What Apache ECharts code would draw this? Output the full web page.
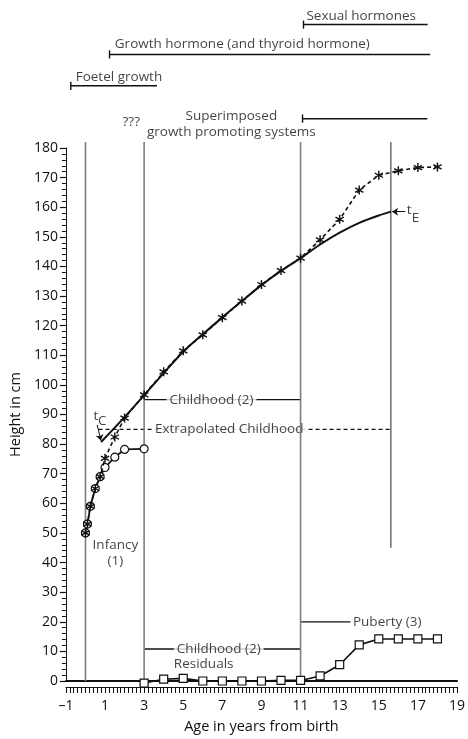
<!DOCTYPE html>
<html>
<head>
<meta charset="utf-8">
<script src="https://cdn.jsdelivr.net/npm/echarts@6/dist/echarts.min.js"></script>
<style>html,body{margin:0;padding:0;background:#fff}</style>
</head>
<body>
<div id="chart" style="width:468px;height:739px"></div>
<script>
// observed heights (asterisks)
const obsAges    = [0, 0.1, 0.25, 0.5, 0.75, 1, 1.5, 2, 3, 4, 5, 6, 7, 8, 9, 10, 11, 12, 13, 14, 15, 16, 17, 18];
const obsHeights = [50, 53, 59, 65, 69, 75.2, 82.4, 88.8, 96.6, 104.4, 111.5, 116.9, 122.7, 128.3, 133.9, 138.6, 142.8, 149, 155.9, 165.8, 170.8, 172.3, 173.4, 173.6];

// infancy component (circles)
const infancyAges    = [0, 0.1, 0.25, 0.5, 0.75, 1, 1.5, 2, 3];
const infancyHeights = [50, 53, 59, 65, 69, 72.1, 75.6, 78.2, 78.4];

// childhood component, from t_C to t_E
const childAges    = [0.8, 2, 3, 4, 5, 6, 7, 8, 9, 10, 11, 12, 13, 14, 15, 15.62];
const childHeights = [80.7, 89.1, 96.5, 104, 111.2, 117.1, 122.8, 128.3, 133.7, 138.5, 142.8, 147.4, 151.4, 154.7, 157.2, 158.5];

// puberty residuals (squares)
const residAges = [3, 4, 5, 6, 7, 8, 9, 10, 11, 12, 13, 14, 15, 16, 17, 18];
const residVals = [-0.7, 0.6, 0.9, 0, 0, 0, 0, 0.2, 0.2, 1.7, 5.5, 12.2, 14.2, 14.2, 14.2, 14.2];

// phase boundaries
const phaseAges = [0, 3, 11];
const phaseTop = 182;
const tE = {age: 15.62, from: 45};

// hormone brackets above the plot
const brackets = [
  {name: 'Sexual hormones', x0: 11.15, x1: 17.5, y: 221.7},
  {name: 'Growth hormone (and thyroid hormone)', x0: 1.23, x1: 17.63, y: 211.6},
  {name: 'Foetel growth', x0: -0.75, x1: 3.66, y: 201},
  {name: 'Superimposed', x0: 11.1, x1: 17.48, y: 189.9}
];

// guide lines inside the plot
const guides = [
  {x0: 3, x1: 11, y: 95, dashed: false},
  {x0: 0.67, x1: 15.62, y: 85, dashed: true},
  {x0: 3, x1: 11, y: 10.8, dashed: false},
  {x0: 11, x1: 13.55, y: 20, dashed: false}
];

// text labels [text, age, height, align, white background]
const labels = [
  ['Sexual hormones', 11.3, 224.6, 'left', false],
  ['Growth hormone (and thyroid hormone)', 1.5, 215, 'left', false],
  ['Foetel growth', -0.5, 203.8, 'left', false],
  ['???', 2.34, 188.6, 'center', false],
  ['Superimposed', 7.46, 190.9, 'center', false],
  ['growth promoting systems', 7.46, 185.5, 'center', false],
  ['Childhood (2)', 4.15, 94.8, 'left', true],
  ['Extrapolated Childhood', 3.4, 85, 'left', true],
  ['Infancy\n(1)', 1.53, 43.3, 'center', false],
  ['Childhood (2)', 4.52, 10.8, 'left', true],
  ['Residuals', 4.52, 5.6, 'left', false],
  ['Puberty (3)', 13.68, 19.9, 'left', false],
  ['t', 0.53, 89.4, 'center', false],
  ['C', 0.86, 87.6, 'center', false],
  ['t', 16.55, 158.9, 'center', false],
  ['E', 16.88, 156.4, 'center', false]
];

// arrows pointing at t_C and t_E
const arrows = [
  [[0.6, 86.5], [0.79, 81.2]],
  [[16.35, 158.5], [15.68, 158.5]]
];

const FONT = 'Open Sans';
const INK = '#111';
const ASTERISK = 'path://M-1.5,-10L1.5,-10L1.5,10L-1.5,10Z M-9.41,-3.7L-7.91,-6.3L9.41,3.7L7.91,6.3Z M-7.91,6.3L-9.41,3.7L7.91,-6.3L9.41,-3.7Z';

const pairs = (xs, ys) => xs.map((x, i) => [x, ys[i]]);

const chart = echarts.init(document.getElementById('chart'));

const series = [];

phaseAges.forEach(a => {
  series.push({
    type: 'line', data: [[a, 0], [a, phaseTop]], symbol: 'none', clip: false, silent: true, z: 3,
    lineStyle: {color: '#7d7d7d', width: 1.6}
  });
});
series.push({
  type: 'line', data: [[tE.age, tE.from], [tE.age, phaseTop]], symbol: 'none', clip: false, silent: true, z: 3,
  lineStyle: {color: '#222', width: 1}
});

brackets.forEach(b => {
  series.push({
    type: 'line', symbol: 'none', clip: false, silent: true, z: 1,
    data: [[b.x0, b.y + 1.4], [b.x0, b.y - 1.4], [b.x0, b.y], [b.x1, b.y]],
    lineStyle: {color: INK, width: 1.4}
  });
});

guides.forEach(g => {
  series.push({
    type: 'line', symbol: 'none', clip: false, silent: true, z: 1,
    data: [[g.x0, g.y], [g.x1, g.y]],
    lineStyle: {color: INK, width: 1.3, type: g.dashed ? [4, 3] : 'solid'}
  });
});

series.push({
  type: 'scatter', z: 2, clip: false, silent: true,
  symbolSize: 1, itemStyle: {color: 'rgba(0,0,0,0)'},
  data: labels.map(l => ({
    name: l[0], value: [l[1], l[2]],
    label: {align: l[3], backgroundColor: l[4] ? '#fff' : 'transparent', padding: l[4] ? [0, 3] : 0}
  })),
  label: {
    show: true, position: 'inside', formatter: '{b}', color: INK,
    fontFamily: FONT, fontSize: 13.5, verticalAlign: 'middle', lineHeight: 16
  }
});

series.push({
  type: 'lines', coordinateSystem: 'cartesian2d', z: 3, silent: true,
  symbol: ['none', 'arrow'], symbolSize: 6,
  lineStyle: {color: INK, width: 1, opacity: 1},
  data: arrows.map(a => ({coords: a}))
});

series.push({
  type: 'line', data: pairs(childAges, childHeights), smooth: 0.3, symbol: 'none', z: 4,
  lineStyle: {color: INK, width: 2}
});

series.push({
  type: 'line', data: pairs(infancyAges, infancyHeights), z: 4.5,
  symbol: 'circle', symbolSize: 8,
  itemStyle: {color: '#fff', borderColor: INK, borderWidth: 1.2},
  lineStyle: {color: INK, width: 1.8}
});

series.push({
  type: 'line', data: pairs(obsAges, obsHeights), z: 5,
  symbol: ASTERISK, symbolSize: 9,
  itemStyle: {color: INK},
  lineStyle: {color: INK, width: 1.6, type: [4, 3]}
});

series.push({
  type: 'line', data: pairs(residAges, residVals), z: 5, clip: false,
  symbol: 'rect', symbolSize: 8,
  itemStyle: {color: '#fff', borderColor: INK, borderWidth: 1.2},
  lineStyle: {color: INK, width: 1.6}
});

const option = {
  animation: false,
  backgroundColor: '#fff',
  grid: {left: 65, right: 8, top: 148, bottom: 55},
  xAxis: [
    {
      type: 'value', min: -1, max: 19, interval: 2, offset: 6,
      name: 'Age in years from birth', nameLocation: 'middle', nameGap: 32,
      nameTextStyle: {fontFamily: FONT, fontSize: 14.5, color: INK},
      axisLine: {show: true, onZero: false, lineStyle: {color: INK, width: 1}},
      axisTick: {show: true, length: 6, lineStyle: {color: INK, width: 1}},
      minorTick: {show: true, splitNumber: 10, length: 6, lineStyle: {color: INK, width: 1}},
      axisLabel: {
        fontFamily: FONT, fontSize: 14, color: INK, margin: 12,
        formatter: v => (v < 0 ? '\u2013' + (-v) : String(v))
      },
      splitLine: {show: false}
    },
    {
      type: 'value', min: -1, max: 19, position: 'bottom', offset: 0,
      axisLine: {show: true, onZero: false, lineStyle: {color: INK, width: 2}},
      axisTick: {show: false}, axisLabel: {show: false}, splitLine: {show: false}
    }
  ],
  yAxis: {
    type: 'value', min: 0, max: 180, interval: 10,
    name: 'Height in cm', nameLocation: 'middle', nameGap: 42, nameRotate: 90,
    nameTextStyle: {fontFamily: FONT, fontSize: 14.5, color: INK},
    axisLine: {show: true, onZero: false, lineStyle: {color: INK, width: 1}},
    axisTick: {show: true, length: 6, lineStyle: {color: INK, width: 1.2}},
    minorTick: {show: true, splitNumber: 5, length: 4, lineStyle: {color: INK, width: 1}},
    axisLabel: {fontFamily: FONT, fontSize: 14, color: INK, margin: 8},
    splitLine: {show: false}
  },
  series: series
};

chart.setOption(option);
</script>
</body>
</html>
